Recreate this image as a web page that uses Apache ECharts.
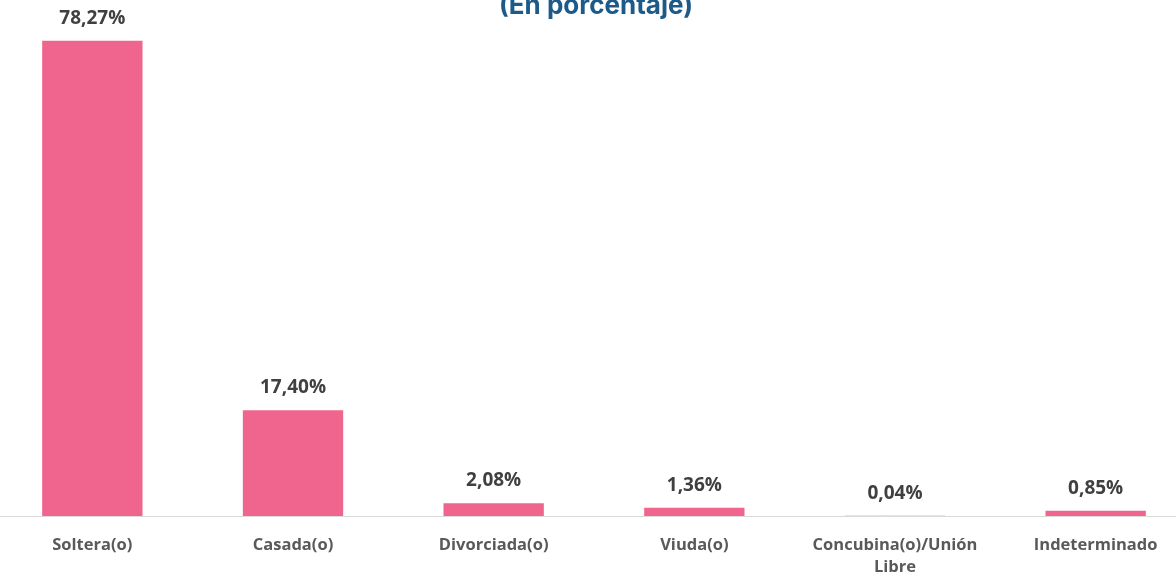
<!DOCTYPE html>
<html>
<head>
<meta charset="utf-8">
<script src="https://cdn.jsdelivr.net/npm/echarts@6/dist/echarts.min.js"></script>
<style>
    html, body { margin: 0; padding: 0; background: #fff; }
    #chart { width: 1176px; height: 573px; }
</style>
</head>
<body>
<div id="chart"></div>
<script>
// estado civil, valores en porcentaje
const categories = ['Soltera(o)', 'Casada(o)', 'Divorciada(o)', 'Viuda(o)', 'Concubina(o)/Unión\nLibre', 'Indeterminado'];
const values = [78.27, 17.40, 2.08, 1.36, 0.04, 0.85];

let chart = echarts.init(document.getElementById('chart'));
const option = {
    animation: false,
    title: {
        text: '(En porcentaje)',
        left: 494,
        top: -12,
        textStyle: {
            color: '#1c5a8a',
            fontFamily: 'Inter',
            fontWeight: 'bold',
            fontSize: 26
        }
    },
    grid: {
        top: 0,
        left: -8,
        right: -20,
        bottom: 57,
        outerBoundsMode: 'none'
    },
    xAxis: {
        type: 'category',
        data: categories,
        axisLine: { lineStyle: { color: '#d9d9d9', width: 1 } },
        axisTick: { show: false },
        axisLabel: {
            interval: 0,
            margin: 18,
            color: '#595959',
            fontFamily: 'Open Sans',
            fontWeight: 'bold',
            fontSize: 16.5,
            lineHeight: 22
        }
    },
    yAxis: {
        type: 'value',
        min: 0,
        max: 85,
        show: false,
        splitLine: { show: false }
    },
    series: [
        {
            type: 'bar',
            data: values,
            barWidth: '50%',
            itemStyle: { color: '#f0658d' },
            label: {
                show: true,
                position: 'top',
                distance: 13,
                color: '#404040',
                fontFamily: 'Open Sans',
                fontWeight: 'bold',
                fontSize: 19,
                formatter: p => p.value.toFixed(2).replace('.', ',') + '%'
            }
        }
    ]
};
chart.setOption(option);

window.addEventListener('resize', function () {
    chart.resize();
});
</script>
</body>
</html>
